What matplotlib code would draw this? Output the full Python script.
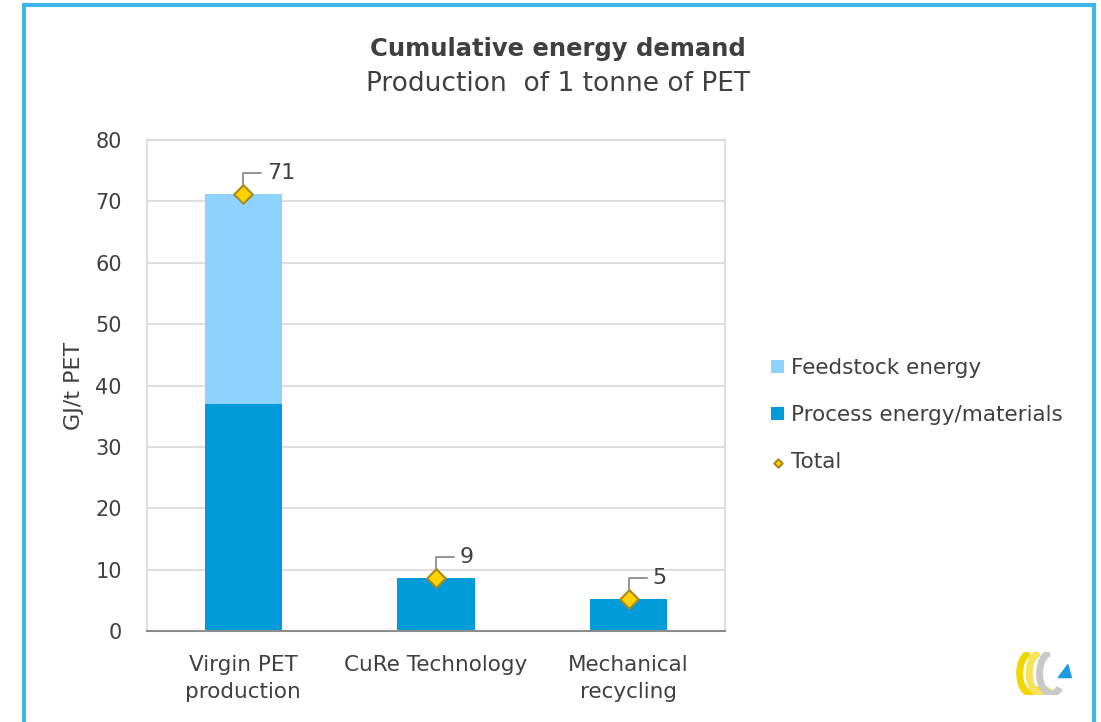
import matplotlib.pyplot as plt
from matplotlib.patches import Rectangle, Arc, Polygon

categories = ["Virgin PET\nproduction", "CuRe Technology", "Mechanical\nrecycling"]
process_energy = [37.0, 8.7, 5.3]
feedstock_energy = [34.2, 0.0, 0.0]
total_energy = [71.2, 8.7, 5.3]

FEEDSTOCK_COLOR = "#8ED3FD"
PROCESS_COLOR = "#009BD8"
MARKER_FACE = "#FFD200"
MARKER_EDGE = "#A8891E"
TEXT_COLOR = "#404040"
FRAME_COLOR = "#3DB8E8"

plt.rcParams["font.family"] = ["DejaVu Sans"]

fig = plt.figure(figsize=(11.01, 7.22), dpi=100)
ax = fig.add_axes([0.1335, 0.126, 0.525, 0.680])

positions = range(len(categories))
process_bars = ax.bar(positions, process_energy, width=0.4, color=PROCESS_COLOR,
                      zorder=2)
feedstock_bars = ax.bar(positions, feedstock_energy, width=0.4,
                        bottom=process_energy, color=FEEDSTOCK_COLOR, zorder=2)
total_points = ax.scatter(positions, total_energy, marker="D", s=90,
                          color=MARKER_FACE, edgecolor=MARKER_EDGE,
                          linewidth=1.5, zorder=4)

for x, value in zip(positions, total_energy):
    ax.annotate(f"{value:.0f}", xy=(x, value), xytext=(17, 15),
                textcoords="offset points", ha="left", va="center",
                fontsize=16, color=TEXT_COLOR,
                arrowprops=dict(arrowstyle="-", color="#8C8C8C", lw=1.3,
                                shrinkA=2, shrinkB=3,
                                connectionstyle="angle,angleA=0,angleB=90,rad=0"))

ax.set_xlim(-0.5, 2.5)
ax.set_ylim(0, 80)
ax.set_yticks(range(0, 81, 10))
ax.set_xticks(list(positions))
ax.set_xticklabels(categories, fontsize=15.5, color=TEXT_COLOR, linespacing=1.45)
ax.tick_params(axis="y", labelsize=15, labelcolor=TEXT_COLOR, length=0, pad=18)
ax.tick_params(axis="x", length=0, pad=17)
ax.yaxis.grid(True, color="#D9D9D9", lw=1.2, zorder=0)
ax.set_axisbelow(True)
for side in ["left", "top", "right"]:
    ax.spines[side].set_color("#D9D9D9")
    ax.spines[side].set_linewidth(1.2)
ax.spines["bottom"].set_color("#8C8C8C")
ax.spines["bottom"].set_linewidth(1.5)
ax.set_ylabel("GJ/t PET", fontsize=16, color=TEXT_COLOR, labelpad=8)

fig.text(0.507, 0.932, "Cumulative energy demand", ha="center", va="center",
         fontsize=17.5, fontweight="bold", color=TEXT_COLOR)
fig.text(0.507, 0.883, "Production  of 1 tonne of PET", ha="center",
         va="center", fontsize=19, color=TEXT_COLOR)

fig.legend([feedstock_bars, process_bars, total_points],
           ["Feedstock energy", "Process energy/materials", "Total"],
           loc="center left", bbox_to_anchor=(0.683, 0.425), frameon=False,
           fontsize=15.5, labelcolor=TEXT_COLOR, handlelength=0.6,
           handleheight=0.6, handletextpad=0.3, labelspacing=1.25,
           markerscale=0.45)

# outer slide frame
fig.patches.append(Rectangle((0.022, -0.05), 0.972, 1.043,
                             transform=fig.transFigure, fill=False,
                             edgecolor=FRAME_COLOR, lw=3))

# small corner logo
logo = fig.add_axes([0.922, 0.03, 0.055, 0.075])
logo.set_xlim(0, 1.4)
logo.set_ylim(0, 1)
logo.set_aspect("equal")
logo.axis("off")
for cx, color in [(0.38, "#F2D600"), (0.6, "#F7E35A"), (0.84, "#C9C9C9")]:
    logo.add_patch(Arc((cx, 0.5), 0.55, 0.95, theta1=95, theta2=300,
                       color=color, lw=5))
logo.add_patch(Polygon([[1.0, 0.4], [1.3, 0.4], [1.22, 0.7]],
                       color="#1E9BE0"))

fig.savefig("out.png", dpi=100)
